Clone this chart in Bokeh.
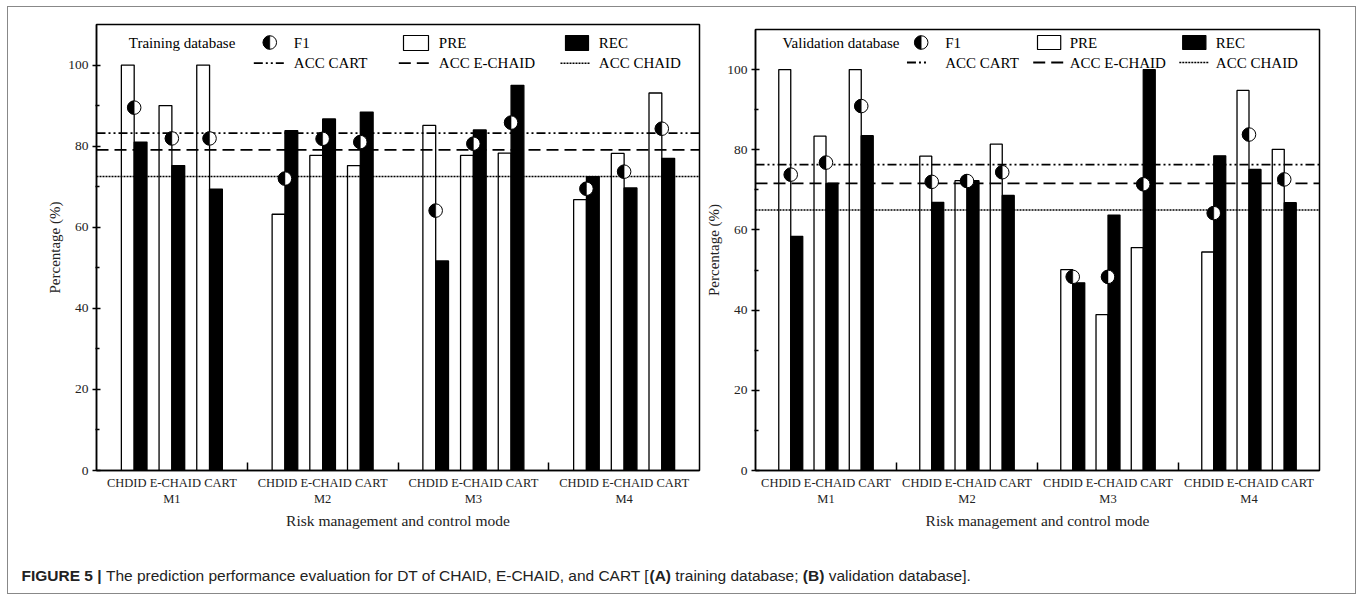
import numpy as np
from bokeh.plotting import figure
from bokeh.layouts import column, row
from bokeh.models import Range1d, FixedTicker, Label
from bokeh.core.properties import value
from bokeh.embed import file_html
from bokeh.resources import INLINE

# ---------------- data ----------------
groups = ["M1", "M2", "M3", "M4"]
methods = ["CHDID", "E-CHAID", "CART"]
y_ticks = [0, 20, 40, 60, 80, 100]
y_minor = [10, 30, 50, 70, 90]

# order: M1(CHDID, E-CHAID, CART), M2(...), M3(...), M4(...)
train_pre = [100, 90.0, 100, 63.2, 77.7, 75.2, 85.1, 77.7, 78.3, 66.8, 78.2, 93.1]
train_rec = [81.0, 75.2, 69.4, 83.8, 86.7, 88.4, 51.7, 84.0, 95.0, 72.5, 69.7, 77.0]
train_f1 = [89.5, 81.9, 81.9, 72.0, 81.8, 81.0, 64.1, 80.6, 85.8, 69.5, 73.7, 84.3]

valid_pre = [100, 83.4, 100, 78.4, 72.3, 81.4, 50.1, 38.9, 55.6, 54.5, 94.8, 80.1]
valid_rec = [58.4, 71.6, 83.5, 66.9, 72.3, 68.6, 46.8, 63.7, 100, 78.5, 75.1, 66.8]
valid_f1 = [73.8, 76.8, 90.9, 72.0, 72.2, 74.4, 48.3, 48.3, 71.4, 64.2, 83.8, 72.6]

acc_names = ["ACC CART", "ACC E-CHAID", "ACC CHAID"]
train_acc = [83.2, 79.1, 72.5]
valid_acc = [76.3, 71.6, 65.0]

# ---------------- style ----------------
SERIF = "Liberation Serif"
SANS = "Liberation Sans"
acc_dash = ["9 3 2 3 2 3", "12 6", "2 1"]
acc_width = [1.8, 1.8, 1.5]
Y_MAX = 110


def make_panel(pre, rec, f1, acc, title, letter, G, L):
    p = figure(width=G["w"], height=G["h"], x_range=Range1d(0, len(groups)),
               y_range=Range1d(0, Y_MAX), output_backend="svg", toolbar_location=None,
               min_border_left=G["mbl"], min_border_right=G["mbr"],
               min_border_top=G["mbt"], min_border_bottom=G["mbb"])
    p.title = None
    p.grid.visible = False
    p.outline_line_color = "black"
    p.outline_line_width = 1.5
    p.background_fill_color = "white"
    p.border_fill_color = "white"

    gw = (G["right"] - G["left"]) / len(groups)
    ppu = (G["bottom"] - G["top"]) / Y_MAX
    X = lambda px: (px - G["left"]) / gw
    Y = lambda py: (G["bottom"] - py) / ppu

    m = len(methods)
    centers = [g + (k + 1) / (m + 1) for g in range(len(groups)) for k in range(m)]
    bw = 0.085
    p.quad(left=[c - bw for c in centers], right=centers, bottom=0, top=pre,
           fill_color="white", line_color="black", line_width=1.3)
    p.quad(left=centers, right=[c + bw for c in centers], bottom=0, top=rec,
           fill_color="black", line_color="black", line_width=1.3)

    # accuracy lines
    for val, dash, lw in zip(acc, acc_dash, acc_width):
        p.segment(x0=[0], y0=[val], x1=[len(groups)], y1=[val], line_color="black",
                  line_width=lw, line_dash=dash)

    # F1 half-filled circles
    def f1_marker(xs, ys):
        p.scatter(xs, ys, marker="circle", size=13.5, fill_color="white",
                  line_color="black", line_width=1.0)
        p.wedge(xs, ys, radius=6.75, radius_units="screen", start_angle=np.pi / 2,
                end_angle=3 * np.pi / 2, fill_color="black", line_color="black",
                line_width=0.5)

    f1_marker(centers, f1)

    # ---------- legend ----------
    r1, r2 = Y(L["row1"]), Y(L["row2"])
    tkw = dict(text_font=value(SERIF), text_font_size="15px", text_color="black",
               text_baseline="middle", text_align="left")
    p.text(x=[X(L["title_x"])], y=[r1], text=[title], **tkw)
    f1_marker([X(L["f1_x"])], [r1])
    p.text(x=[X(L["t1"])], y=[r1], text=["F1"], **tkw)
    p.quad(left=[X(L["pre_box"][0])], right=[X(L["pre_box"][1])],
           top=[Y(L["box_y"][0])], bottom=[Y(L["box_y"][1])],
           fill_color="white", line_color="black", line_width=1.2)
    p.text(x=[X(L["t2"])], y=[r1], text=["PRE"], **tkw)
    p.quad(left=[X(L["rec_box"][0])], right=[X(L["rec_box"][1])],
           top=[Y(L["box_y"][0])], bottom=[Y(L["box_y"][1])],
           fill_color="black", line_color="black", line_width=1.2)
    p.text(x=[X(L["t3"])], y=[r1], text=["REC"], **tkw)
    for (x0, x1), tx, name, dash, lw in zip(L["lines"], [L["t1"], L["t2"], L["t3"]],
                                            acc_names, acc_dash, acc_width):
        p.segment(x0=[X(x0)], y0=[r2], x1=[X(x1)], y1=[r2], line_color="black",
                  line_width=lw, line_dash=dash)
        p.text(x=[X(tx)], y=[r2], text=[name], **tkw)

    # ---------- axes ----------
    xa = p.xaxis[0]
    xa.ticker = FixedTicker(ticks=[g + 0.5 for g in range(len(groups))],
                            minor_ticks=list(range(1, len(groups))))
    xa.major_label_overrides = {g + 0.5: " ".join(methods) + "\n" + groups[g]
                                for g in range(len(groups))}
    xa.major_tick_in = 0
    xa.major_tick_out = 0
    xa.minor_tick_in = 8
    xa.minor_tick_out = 0
    xa.minor_tick_line_width = 1.5
    xa.minor_tick_line_color = "black"
    xa.axis_line_width = 1.5
    xa.major_label_standoff = 5
    xa.major_label_text_font = SERIF
    xa.major_label_text_font_size = "12.5px"
    xa.major_label_text_color = "#222222"
    xa.axis_label = "Risk management and control mode"
    xa.axis_label_text_font = SERIF
    xa.axis_label_text_font_size = "15.5px"
    xa.axis_label_text_font_style = "normal"
    xa.axis_label_text_color = "#222222"
    xa.axis_label_standoff = 3

    ya = p.yaxis[0]
    ya.ticker = FixedTicker(ticks=y_ticks, minor_ticks=y_minor)
    ya.major_tick_in = 4
    ya.major_tick_out = 4
    ya.minor_tick_in = 3
    ya.minor_tick_out = 1
    ya.major_tick_line_width = 1.3
    ya.minor_tick_line_width = 1.3
    ya.axis_line_width = 1.5
    ya.major_label_standoff = 4
    ya.major_label_text_font = SERIF
    ya.major_label_text_font_size = "13.5px"
    ya.major_label_text_color = "#222222"
    ya.axis_label = "Percentage (%)"
    ya.axis_label_text_font = SERIF
    ya.axis_label_text_font_size = "15px"
    ya.axis_label_text_font_style = "normal"
    ya.axis_label_text_color = "#222222"
    ya.axis_label_standoff = 2

    p.add_layout(Label(x=X(L["letter_x"]), y=Y(L["letter_y"]), text=letter,
                       text_font=SANS, text_font_style="bold", text_font_size="17px",
                       text_baseline="middle", text_align="left"))
    return p


GA = dict(w=695, h=535, mbl=88, mbr=4, mbt=17, mbb=72,
          left=96, right=699, top=24, bottom=470)
LA = dict(row1=42, row2=62.7, title_x=128.3, f1_x=269.3, t1=293.3, t2=438.3, t3=598.3,
          pre_box=(403, 428), rec_box=(565, 588), box_y=(35, 50),
          lines=[(253.3, 283.3), (398.3, 430), (560, 590)], letter_x=45, letter_y=31)
GB = dict(w=652, h=535, mbl=50, mbr=36, mbt=22, mbb=72,
          left=753, right=1319, top=29, bottom=470)
LB = dict(row1=42, row2=62, title_x=780, f1_x=919.3, t1=943.3, t2=1068.3, t3=1215,
          pre_box=(1036, 1059.3), rec_box=(1181.7, 1205), box_y=(35, 49),
          lines=[(905, 926.7), (1031.7, 1063.3), (1178.3, 1208.3)], letter_x=711, letter_y=30)

pA = make_panel(train_pre, train_rec, train_f1, train_acc, "Training database", "A", GA, LA)
pB = make_panel(valid_pre, valid_rec, valid_f1, valid_acc, "Validation database", "B", GB, LB)

# ---------------- caption ----------------
caption_parts = [("FIGURE 5 |", True),
                 (" The prediction performance evaluation for DT of CHAID, E-CHAID, and CART [", False),
                 ("(A)", True), (" training database; ", False), ("(B)", True),
                 (" validation database].", False)]

W_REG = {' ': 278, 'T': 611, 'h': 556, 'e': 556, 'p': 556, 'r': 333, 'd': 556, 'i': 222,
         'c': 500, 't': 278, 'o': 556, 'n': 556, 'f': 278, 'm': 833, 'a': 556, 'v': 500,
         'l': 222, 'u': 556, 'D': 722, 'C': 722, 'H': 722, 'A': 667, 'I': 278, ',': 278,
         'E': 667, '-': 333, 'R': 722, '[': 278, 'g': 556, 'b': 556, 's': 500, ';': 278,
         ']': 278, '.': 278}
W_BOLD = {'F': 611, 'I': 278, 'G': 778, 'U': 722, 'R': 722, 'E': 667, ' ': 278, '5': 556,
          '|': 280, '(': 333, ')': 333, 'A': 722, 'B': 722}
CAP_SIZE = 15.5


def tw(s, table):
    return sum(table.get(ch, 556) for ch in s) * CAP_SIZE / 1000.0


pC = figure(width=1347, height=51, x_range=Range1d(0, 1347), y_range=Range1d(0, 51),
            output_backend="svg", toolbar_location=None, x_axis_type=None,
            y_axis_type=None, min_border=0)
pC.title = None
pC.grid.visible = False
pC.outline_line_color = None
xpos = 13.0
for txt, bold in caption_parts:
    table = W_BOLD if bold else W_REG
    core = txt.strip(" ")
    lead = len(txt) - len(txt.lstrip(" "))
    pC.text(x=[xpos + tw(" " * lead, table)], y=[18], text=[core], text_font=value(SANS),
            text_font_size=f"{CAP_SIZE}px", text_font_style="bold" if bold else "normal",
            text_baseline="middle", text_align="left", text_color="#222222")
    xpos += tw(txt, table)

layout = column(row(column(pA), column(pB)), pC, margin=(6, 0, 0, 7),
                styles={"border": "1px solid #888888"})

open("out.html", "w").write(file_html(layout, INLINE))
